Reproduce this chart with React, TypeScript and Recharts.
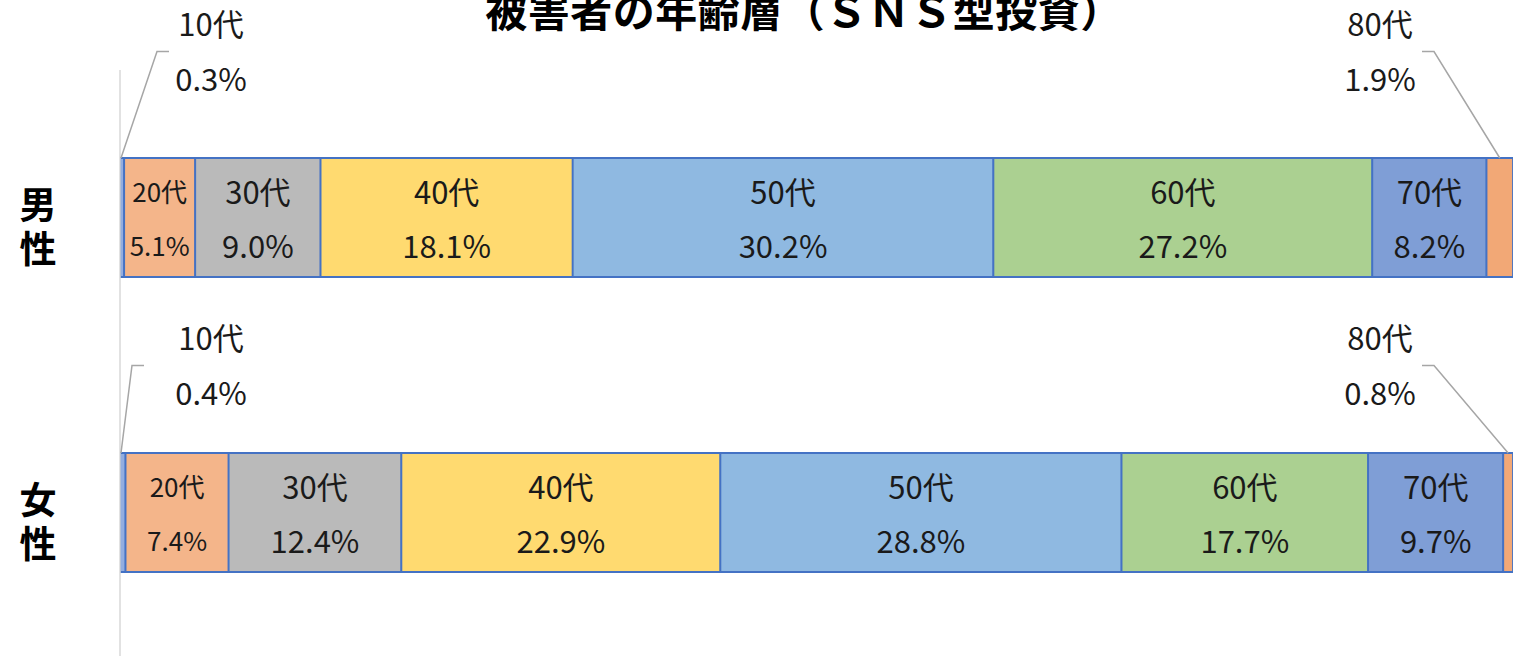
import React from 'react'
import { BarChart, Bar, XAxis, YAxis } from 'recharts'

const ages = ['10代', '20代', '30代', '40代', '50代', '60代', '70代', '80代']
const genders = ['男性', '女性']
const maleShares = [0.3, 5.1, 9.0, 18.1, 30.2, 27.2, 8.2, 1.9]
const femaleShares = [0.4, 7.4, 12.4, 22.9, 28.8, 17.7, 9.7, 0.8]
const colors = ['#93ADDF', '#F4B58A', '#BABABA', '#FFDA70', '#8FB9E1', '#ABD091', '#7F9ED6', '#F2A876']

const FONT = '"Noto Sans CJK JP", "Noto Sans", sans-serif'
const TXT = '#1a1a1a'

const data = genders.map((g, i) => {
  const shares = i === 0 ? maleShares : femaleShares
  const row: Record<string, string | number> = { name: g }
  ages.forEach((a, j) => { row[a] = shares[j] })
  return row
})

// how far above the bar the outside labels sit (male / female rows)
const outsideLift = [136, 117]

function GenderTick(props: any) {
  const { y, payload } = props
  const chars = String(payload.value).split('')
  return (
    <text x={38} y={y - 15} textAnchor="middle" dominantBaseline="central"
      fontFamily={FONT} fontWeight={700} fontSize={37} fill="#000">
      {chars.map((c, k) => (
        <tspan key={k} x={38} dy={k === 0 ? 0 : 44}>{c}</tspan>
      ))}
    </text>
  )
}

function makeLabel(age: string, ageIndex: number) {
  return (props: any) => {
    const { x, y, width, height, index } = props
    const share = Number(data[index][age])
    const pct = `${share.toFixed(1)}%`
    if (ageIndex === 0 || ageIndex === ages.length - 1) {
      const lift = outsideLift[index] ?? 120
      const l1 = y - lift
      const l2 = l1 + 55
      const mid = (l1 + l2) / 2 + 2
      let tx: number, pts: string
      if (ageIndex === 0) {
        tx = x + 91
        const ex = index === 0 ? x + 37 : x + 12
        pts = `${x + 1},${y} ${ex},${mid} ${ex + 12},${mid}`
      } else {
        const end = x + width
        tx = end - 133
        pts = `${x + width / 2},${y} ${end - 79},${mid} ${end - 91},${mid}`
      }
      return (
        <g>
          <polyline points={pts} fill="none" stroke="#A6A6A6" strokeWidth={1.5} />
          <text x={tx} y={l1} textAnchor="middle" dominantBaseline="central" fontFamily={FONT} fontSize={31} fill={TXT}>{age}</text>
          <text x={tx} y={l2} textAnchor="middle" dominantBaseline="central" fontFamily={FONT} fontSize={31} fill={TXT}>{pct}</text>
        </g>
      )
    }
    const cx = x + width / 2
    const cy = y + height / 2
    const fs = ageIndex === 1 ? 26 : 31
    return (
      <g>
        <text x={cx} y={cy - 27} textAnchor="middle" dominantBaseline="central" fontFamily={FONT} fontSize={fs} fill={TXT}>{age}</text>
        <text x={cx} y={cy + 27} textAnchor="middle" dominantBaseline="central" fontFamily={FONT} fontSize={fs} fill={TXT}>{pct}</text>
      </g>
    )
  }
}

export default function App() {
  return (
    <div style={{ position: 'absolute', left: 0, top: 0, width: 1524, height: 656, overflow: 'hidden', background: '#fff' }}>
      <div style={{
        position: 'absolute', left: 12, top: -12, width: 1584, textAlign: 'center',
        fontFamily: FONT, fontWeight: 700, fontSize: 42, lineHeight: '42px', color: '#000',
        letterSpacing: 0.5,
      }}>
        被害者の年齢層（ＳＮＳ型投資）
      </div>
      <BarChart
        width={1524}
        height={660}
        data={data}
        layout="vertical"
        margin={{ top: 70, right: 11, bottom: 0, left: 0 }}
        barSize={119}
      >
        <XAxis type="number" domain={[0, 100]} hide allowDataOverflow />
        <YAxis
          type="category"
          dataKey="name"
          width={120}
          axisLine={{ stroke: '#D9D9D9', strokeWidth: 1.5 }}
          tickLine={false}
          tick={<GenderTick />}
        />
        {ages.map((a, j) => (
          <Bar
            key={a}
            dataKey={a}
            stackId="s"
            fill={colors[j]}
            stroke="#4472C4"
            strokeWidth={1.8}
            isAnimationActive={false}
            label={makeLabel(a, j)}
          />
        ))}
      </BarChart>
    </div>
  )
}
